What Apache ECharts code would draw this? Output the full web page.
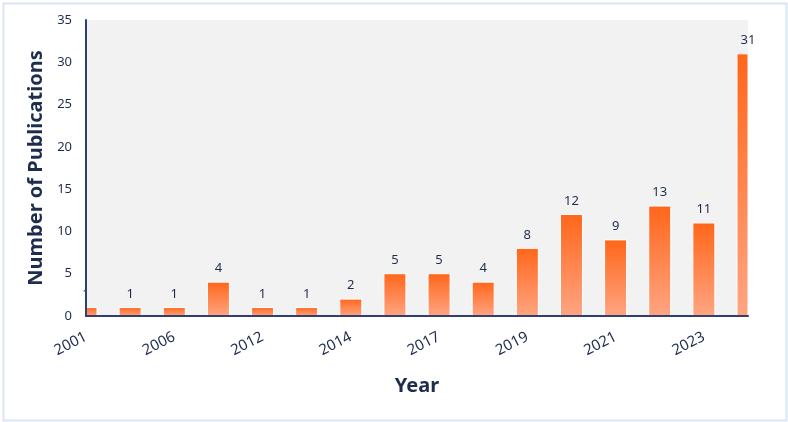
<!DOCTYPE html>
<html><head><meta charset="utf-8">
<script src="https://cdn.jsdelivr.net/npm/echarts@6/dist/echarts.min.js"></script>
<style>html,body{margin:0;padding:0;background:#fff}#c{width:788px;height:422px}</style>
</head><body><div id="c"></div>
<script>
const years = ['2001','2004','2006','2010','2012','2013','2014','2015','2017','2018','2019','2020','2021','2022','2023','2024'];
const publications = [1,1,1,4,1,1,2,5,5,4,8,12,9,13,11,31];
const shownLabels = ['2001','2006','2012','2014','2017','2019','2021','2023'];
const yTicks = [0,5,10,15,20,25,30,35];

const chart = echarts.init(document.getElementById('c'));
const txt = '#1f2d4d';
const font = 'Noto Sans';
chart.setOption({
  animation:false,
  backgroundColor:'#fff',
  graphic:[{type:'rect',left:1,top:1,shape:{width:783,height:417},style:{fill:'none',stroke:'#dae5f5',lineWidth:2},silent:true}],
  grid:{left:86,right:40,top:20,bottom:106,show:true,backgroundColor:'#f2f2f2',borderWidth:0},
  xAxis:{type:'category',data:years,boundaryGap:false,z:5,
    name:'Year',nameLocation:'middle',nameGap:60,
    nameTextStyle:{fontFamily:font,fontWeight:'bold',fontSize:20,color:txt},
    axisLine:{lineStyle:{color:'#2f4070',width:2}},axisTick:{show:false},
    axisLabel:{rotate:27,margin:20,fontFamily:font,fontSize:15,color:txt,
      interval:0,formatter:v=>shownLabels.includes(v)&&years.indexOf(v)%2===0?v:''}},
  yAxis:{type:'value',min:0,max:35,interval:5,z:5,
    name:'Number of Publications',nameLocation:'middle',nameGap:40,
    nameTextStyle:{fontFamily:font,fontWeight:'bold',fontSize:20,color:txt},
    axisLine:{show:true,lineStyle:{color:'#2f4070',width:2}},axisTick:{show:false},splitLine:{show:false},
    axisLabel:{margin:14,fontFamily:font,fontSize:13,color:txt,formatter:v=>yTicks.includes(v)?String(v):''}},
  series:[{type:'custom',
    data:publications.map((v,i)=>[i,v]),
    encode:{x:0,y:1},
    renderItem:function(params,api){
      const x=api.value(0), y=api.value(1);
      const top=api.coord([x,y]), base=api.coord([x,0]);
      const w=22, cs=params.coordSys;
      const r=echarts.graphic.clipRectByRect(
        {x:top[0]-w/2,y:top[1],width:w,height:base[1]-top[1]},
        {x:cs.x,y:cs.y,width:cs.width,height:cs.height});
      const children=[];
      if(r){children.push({type:'rect',shape:r,
        style:{fill:new echarts.graphic.LinearGradient(0,0,0,1,[{offset:0,color:'#ff661a'},{offset:1,color:'#ffa583'}]),stroke:'#ffffff',lineWidth:1}});}
      children.push({type:'text',style:{x:top[0],y:top[1]-7,text:String(y),align:'center',verticalAlign:'bottom',
        fontFamily:font,fontSize:13,fill:txt}});
      return {type:'group',children:children};
    }}]
});
</script></body></html>
